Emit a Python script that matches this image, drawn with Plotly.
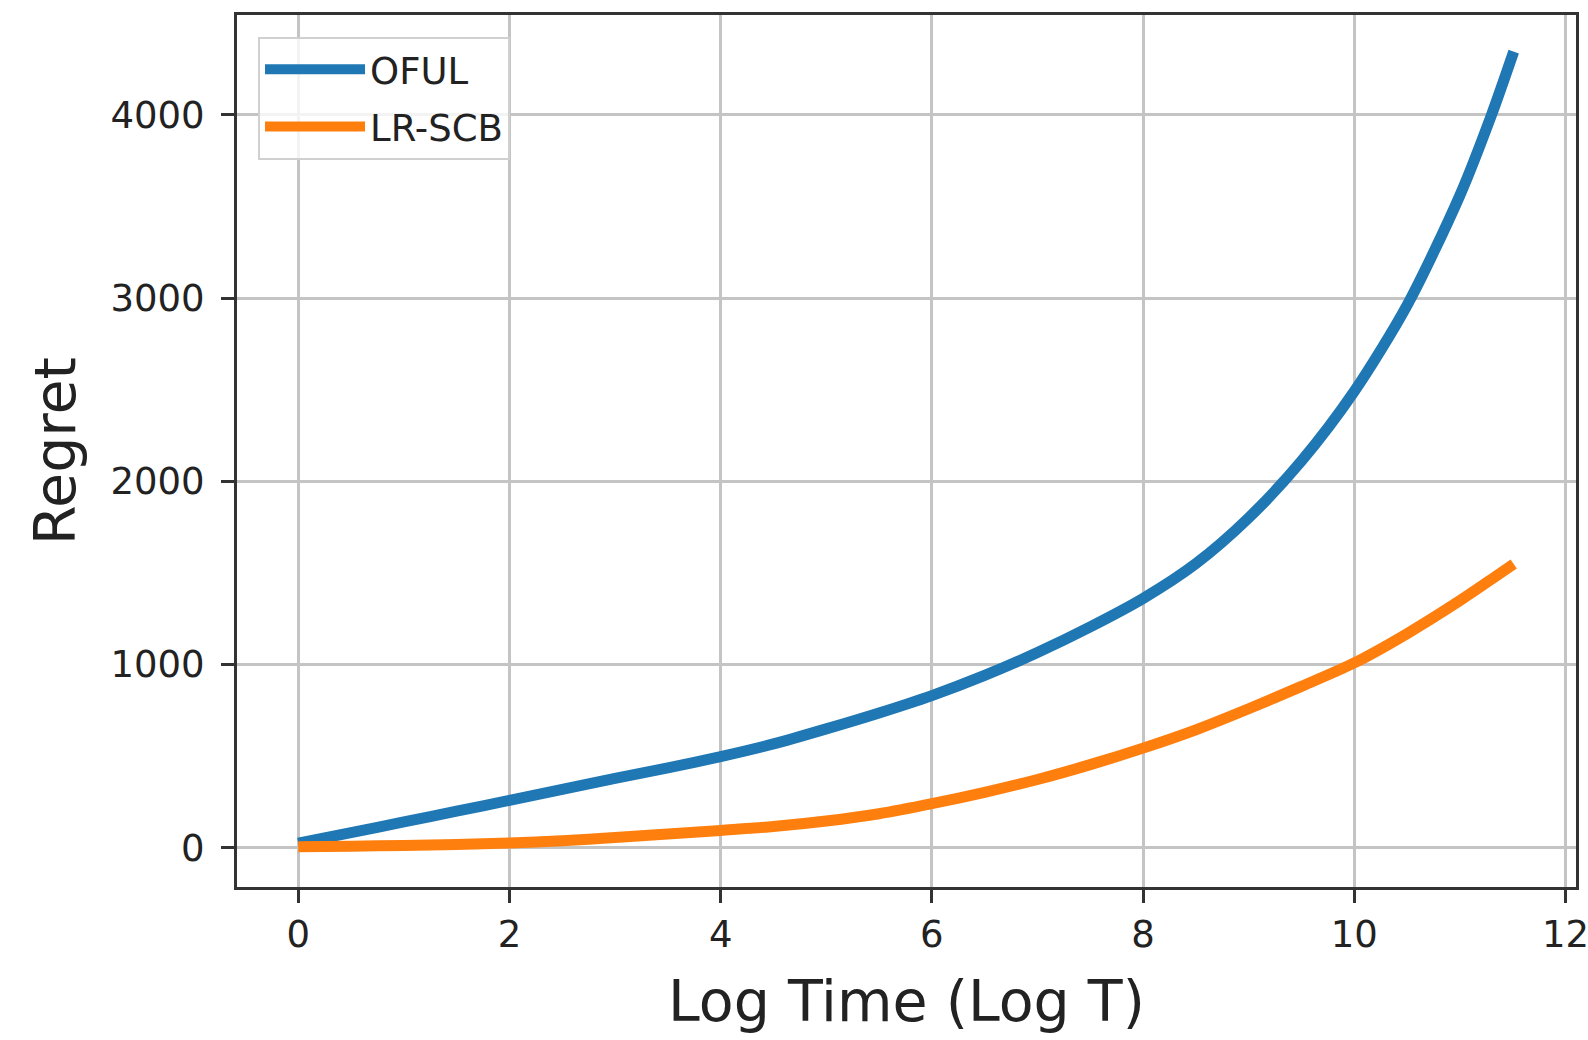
import plotly.graph_objects as go

# Data
log_t = [0.0, 0.5, 1.0, 1.5, 2.0, 2.5, 3.0, 3.5, 4.0, 4.5, 5.0, 5.5, 6.0,
         6.5, 7.0, 7.5, 8.0, 8.5, 9.0, 9.5, 10.0, 10.5, 11.0, 11.3, 11.51]
oful = [25, 82, 140, 199, 258, 318, 378, 435, 497, 566, 648, 735, 830,
        940, 1065, 1205, 1360, 1550, 1800, 2110, 2490, 2960, 3560, 4000, 4345]
lr_scb = [5, 8, 12, 17, 25, 38, 55, 74, 94, 115, 145, 185, 240,
          302, 372, 453, 543, 643, 758, 880, 1008, 1168, 1348, 1465, 1548]

x_ticks = [0, 2, 4, 6, 8, 10, 12]
y_ticks = [0, 1000, 2000, 3000, 4000]

FONT = "DejaVu Sans"
TXT = "#222222"

fig = go.Figure()
fig.add_trace(go.Scatter(x=log_t, y=oful, mode="lines", name="OFUL",
                         legendgroup="a",
                         line=dict(color="#1f77b4", width=11, shape="spline", smoothing=0.8)))
fig.add_trace(go.Scatter(x=log_t, y=lr_scb, mode="lines", name="LR-SCB",
                         legendgroup="b",
                         line=dict(color="#ff7f0e", width=11, shape="spline", smoothing=0.8)))

axis_common = dict(
    showgrid=True, gridcolor="#c4c4c4", gridwidth=3,
    showline=True, linecolor="#333333", linewidth=3, mirror=True,
    ticks="outside", ticklen=13, tickwidth=3, tickcolor="#333333",
    zeroline=False, automargin=False, ticklabeloverflow="allow",
    tickfont=dict(family=FONT, size=37, color=TXT),
)

fig.update_layout(
    width=1588, height=1040,
    margin=dict(l=237, r=12, t=15, b=153),
    paper_bgcolor="white", plot_bgcolor="white",
    font=dict(family=FONT, color=TXT),
    xaxis=dict(range=[-0.58, 12.1], tickvals=x_ticks,
               ticktext=[str(v) for v in x_ticks],
               ticklabelstandoff=0,
               title=dict(text="Log Time (Log T)", font=dict(family=FONT, size=57, color=TXT),
                          standoff=26),
               **axis_common),
    yaxis=dict(range=[-215, 4545], tickvals=y_ticks,
               ticktext=[str(v) for v in y_ticks],
               ticklabelstandoff=9,
               title=dict(text="Regret", font=dict(family=FONT, size=57, color=TXT),
                          standoff=17),
               **axis_common),
    legend=dict(x=0.0157, y=0.975, xanchor="left", yanchor="top",
                bgcolor="rgba(255,255,255,0.8)", bordercolor="#d0d0d0", borderwidth=2,
                font=dict(family=FONT, size=37, color=TXT),
                tracegroupgap=6, itemwidth=100),
    showlegend=True,
)

fig.write_html("out.html",
               config={"displayModeBar": False},
               post_script="document.body.style.margin='0';document.body.style.overflow='hidden';")
